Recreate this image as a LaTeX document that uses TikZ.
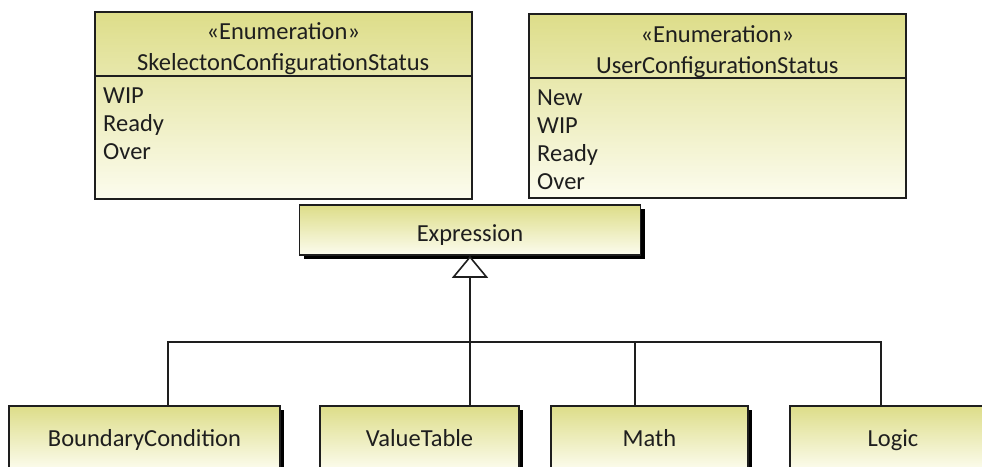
\documentclass[tikz,border=0pt]{standalone}
\usepackage{fontspec}
\setmainfont{Carlito}
\usepackage{tikz}
\usetikzlibrary{positioning,arrows.meta,shadows}
\definecolor{umlTop}{RGB}{221,221,137}
\definecolor{umlBot}{RGB}{252,252,238}
\definecolor{umlInk}{RGB}{30,30,30}
\begin{document}
\begin{tikzpicture}[
  x=1pt, y=-1pt,
  font=\fontsize{24.5}{28}\selectfont,
  text=umlInk,
  >={Triangle[length=22pt,width=36pt,fill=white]},
  cls/.style={draw=umlInk, line width=1.6pt, top color=umlTop, bottom color=umlBot,
              minimum height=50pt, inner sep=0pt, text height=16pt, text depth=0pt},
  shd/.style={drop shadow={shadow xshift=4pt, shadow yshift=-4pt, fill=black, opacity=1}},
  enm/.style={cls, anchor=north west, minimum width=377pt},
  hdr/.style={align=center, inner sep=0pt, font=\fontsize{24.5}{31}\selectfont},
  itm/.style={anchor=base west, inner sep=0pt},
  con/.style={draw=umlInk, line width=1.6pt},
]
\clip (0,0) rectangle (982,466);
\node[enm, minimum height=187pt] (skel) at (94,11) {};
\node[enm, minimum height=184pt] (user) at (528,13) {};
\draw[con] ([yshift=-65pt]skel.north west) -- ([yshift=-65pt]skel.north east);
\draw[con] ([yshift=-65pt]user.north west) -- ([yshift=-65pt]user.north east);
\node[hdr, below=11pt of skel.north] (skelhead) {«Enumeration»\\SkelectonConfigurationStatus};
\node[hdr, below=12pt of user.north] (userhead) {«Enumeration»\\UserConfigurationStatus};
\node[itm] (skel1) at (103,103) {WIP};
\node[itm] (skel2) at (103,131) {Ready};
\node[itm] (skel3) at (103,159) {Over};
\node[itm] (user1) at (537,105) {New};
\node[itm] (user2) at (537,133) {WIP};
\node[itm] (user3) at (537,161) {Ready};
\node[itm] (user4) at (537,189) {Over};
\node[cls, shd, minimum width=341pt, text height=22pt] (expr) at (470,230) {Expression};
\node[cls, shd, minimum width=271pt, minimum height=64pt] (bc) at (144.5,438) {BoundaryCondition};
\node[cls, shd, minimum width=199pt, minimum height=64pt] (vt) at (419.5,438) {ValueTable};
\node[cls, shd, minimum width=197pt, minimum height=64pt] (math) at (649.5,438) {Math};
\node[cls, shd, minimum width=206pt, minimum height=64pt] (logic) at (893,438) {Logic};
\coordinate (bus) at (470,342);
\draw[con] ([xshift=23.5pt]bc.north) |- (bus);
\draw[con] ([xshift=50.5pt]vt.north) -- (bus);
\draw[con] ([xshift=-14.5pt]math.north) |- (bus);
\draw[con] ([xshift=-12pt]logic.north) |- (bus);
\draw[con,->] (bus) -- (expr.south);
\end{tikzpicture}
\end{document}
